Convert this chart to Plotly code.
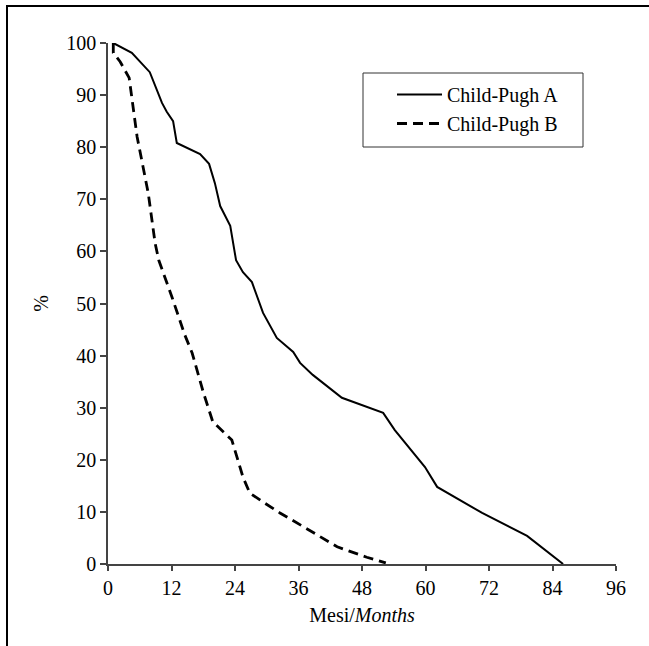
import plotly.graph_objects as go

months_a = [1, 4.5, 7.9, 10.2, 11.1, 12.3, 13.0, 17.4, 19.1, 20.2, 21.2, 23.1, 24.2, 25.5, 27.2,
            29.3, 31.9, 35.0, 36.3, 38.7, 44.2, 52.0, 54.2, 59.9, 62.2, 70.7, 79.2, 86.0]
surv_a = [100, 98.1, 94.4, 88.5, 86.8, 85.0, 80.8, 78.7, 76.8, 73.1, 68.7, 64.9, 58.3, 56.0, 54.1,
          48.2, 43.4, 40.7, 38.6, 36.3, 31.9, 29.0, 25.7, 18.6, 14.8, 9.8, 5.4, 0]

months_b = [1, 1, 2.3, 4.0, 5.5, 7.0, 7.6, 8.9, 9.6, 12.1, 14.5, 15.9, 18.0, 19.8, 20.8, 23.4,
            25.5, 26.8, 29.3, 32.5, 38.7, 43.3, 48.9, 52.5]
surv_b = [100, 98.1, 96.4, 93.3, 82.0, 74.0, 71.2, 61.6, 58.3, 51.2, 44.0, 40.5, 33.0, 27.3, 26.3, 23.8,
          16.7, 13.6, 11.9, 9.8, 6.1, 3.3, 1.3, 0.2]

x_ticks = [0, 12, 24, 36, 48, 60, 72, 84, 96]
y_ticks = [0, 10, 20, 30, 40, 50, 60, 70, 80, 90, 100]

FONT = "Liberation Serif, Times New Roman, serif"
FS = 20

fig = go.Figure()
fig.add_trace(go.Scatter(x=months_a, y=surv_a, mode="lines", name="Child-Pugh A",
                         line=dict(color="black", width=2)))
fig.add_trace(go.Scatter(x=months_b, y=surv_b, mode="lines", name="Child-Pugh B",
                         line=dict(color="black", width=2.8, dash="10px,6px")))

L, R, T, B = 108, 33, 43, 82
W, H = 649, 646
pw, ph = W - L - R, H - T - B


def px_x(p):
    return (p - L) / pw


def px_y(p):
    return (H - B - p) / ph


# outer frame (top and left edges)
fig.add_shape(type="path", xref="paper", yref="paper",
              path=f"M {px_x(7)},{-0.3} L {px_x(7)},{px_y(6)} L {1.2},{px_y(6)}",
              line=dict(color="black", width=2))
# legend frame
fig.add_shape(type="rect", xref="paper", yref="paper",
              x0=px_x(363), x1=px_x(583), y0=px_y(147), y1=px_y(73),
              line=dict(color="#333", width=1), fillcolor="rgba(0,0,0,0)")

fig.update_layout(
    width=W, height=H,
    margin=dict(l=L, r=R, t=T, b=B),
    paper_bgcolor="white", plot_bgcolor="white",
    font=dict(family=FONT, size=FS, color="black"),
    showlegend=True,
    legend=dict(x=px_x(392), y=px_y(75), xanchor="left", yanchor="top",
                borderwidth=0, bgcolor="rgba(0,0,0,0)",
                font=dict(family=FONT, size=FS), tracegroupgap=0,
                itemwidth=45),
    xaxis=dict(range=[0, 96], tickvals=x_ticks, ticktext=[str(v) for v in x_ticks],
               showgrid=False, zeroline=False, showline=True, linecolor="#444", linewidth=1.5,
               ticks="outside", ticklen=5, tickcolor="#444", tickwidth=1.5,
               tickfont=dict(family=FONT, size=FS),
               title=dict(text="Mesi/<i>Months</i>", font=dict(family=FONT, size=FS), standoff=10)),
    yaxis=dict(range=[0, 100], tickvals=y_ticks, ticktext=[str(v) for v in y_ticks],
               showgrid=False, zeroline=False, showline=True, linecolor="#444", linewidth=1.5,
               ticks="outside", ticklen=6, tickcolor="#444", tickwidth=1.5,
               tickfont=dict(family=FONT, size=FS),
               title=dict(text="%", font=dict(family=FONT, size=FS), standoff=12)),
)

fig.write_html("out.html")
